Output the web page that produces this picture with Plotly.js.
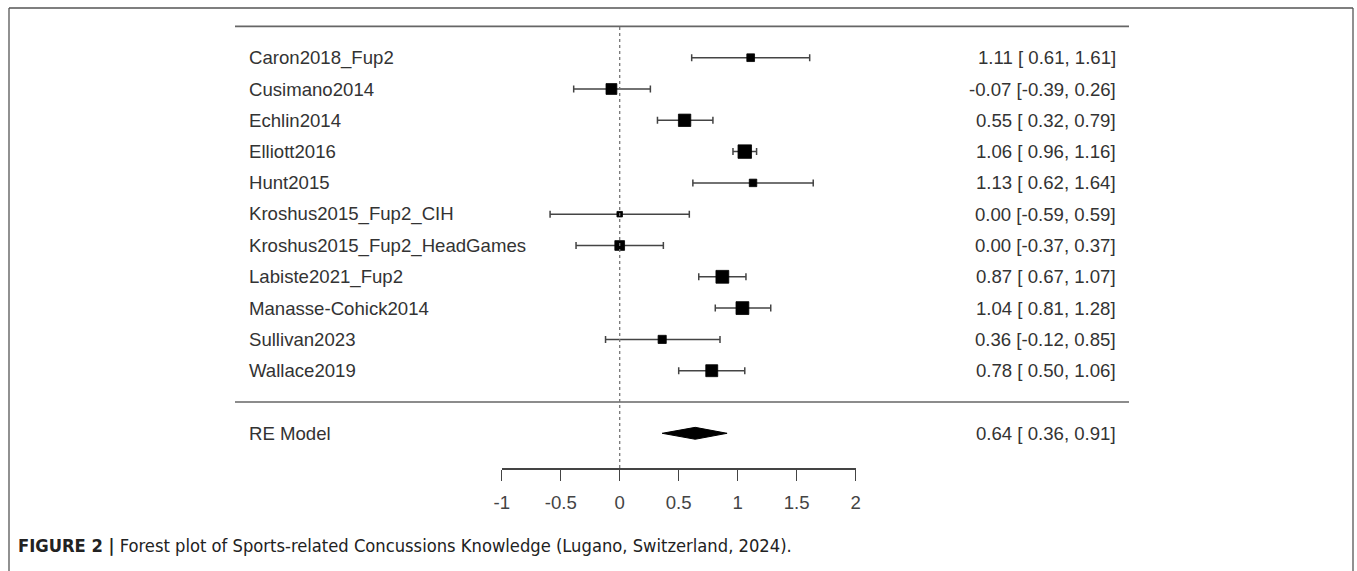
<!DOCTYPE html>
<html>
<head>
<meta charset="utf-8">
<script src="https://cdn.plot.ly/plotly-3.0.1.min.js"></script>
<style>
  html, body { margin: 0; padding: 0; background: #ffffff; }
  #chart { width: 1357px; height: 571px; }
</style>
</head>
<body>
<div id="chart"></div>
<script>
// ---- data ----
const studies = [
  "Caron2018_Fup2", "Cusimano2014", "Echlin2014", "Elliott2016", "Hunt2015",
  "Kroshus2015_Fup2_CIH", "Kroshus2015_Fup2_HeadGames", "Labiste2021_Fup2",
  "Manasse-Cohick2014", "Sullivan2023", "Wallace2019"
];
const estimate = [1.11, -0.07, 0.55, 1.06, 1.13, 0.00, 0.00, 0.87, 1.04, 0.36, 0.78];
const ciLower  = [0.61, -0.39, 0.32, 0.96, 0.62, -0.59, -0.37, 0.67, 0.81, -0.12, 0.50];
const ciUpper  = [1.61, 0.26, 0.79, 1.16, 1.64, 0.59, 0.37, 1.07, 1.28, 0.85, 1.06];
const weightPct = [8.1, 9.5, 10.2, 10.7, 8.0, 7.1, 9.0, 10.4, 10.4, 8.3, 10.0];
const summaryLabel = "RE Model";
const summaryEst = 0.64;
const summaryLower = 0.36;
const summaryUpper = 0.91;
const xTickVals = [-1, -0.5, 0, 0.5, 1, 1.5, 2];
const xTickText = ["-1", "-0.5", "0", "0.5", "1", "1.5", "2"];
const captionBold = "FIGURE 2 |";
const captionText = "Forest plot of Sports-related Concussions Knowledge (Lugano, Switzerland, 2024).";

// ---- layout helpers ----
const W = 1357, H = 571;
const k = studies.length;
const rows = studies.map((_, i) => k - i);        // k ... 1
const summaryRow = -1;
const rowPx = 31.3;
const topRowPx = 57.7;
const yTop = k + topRowPx / rowPx;
const yBot = k - (H - topRowPx) / rowPx;
const px = v => v / W;
const py = v => (H - v) / H;

const fmt = v => v.toFixed(2);
const padNum = s => (s.startsWith('-') ? s : '&nbsp;' + s);
const fmtCI = (e, l, u) => fmt(e) + ' [' + padNum(fmt(l)) + ', ' + fmt(u) + ']';

const wMin = Math.min(...weightPct), wMax = Math.max(...weightPct);
const sizes = weightPct.map(w => 5.5 + (w - wMin) / (wMax - wMin) * 8);

const lineCol = '#444444';
const textCol = '#333333';
const fontFam = 'Liberation Sans, Arial, Helvetica, sans-serif';
const fSize = 18.6;

const studyTrace = {
  type: 'scatter', mode: 'markers',
  x: estimate, y: rows,
  marker: { symbol: 'square', size: sizes, color: '#000000', opacity: 1, line: { width: 0.8, color: '#000000' } },
  error_x: {
    type: 'data', symmetric: false,
    array: estimate.map((e, i) => ciUpper[i] - e),
    arrayminus: estimate.map((e, i) => e - ciLower[i]),
    color: lineCol, thickness: 1.5, width: 3.5
  },
  hoverinfo: 'skip', showlegend: false, cliponaxis: false
};

const dh = 0.19;
const diamondTrace = {
  type: 'scatter', mode: 'lines',
  x: [summaryLower, summaryEst, summaryUpper, summaryEst, summaryLower],
  y: [summaryRow, summaryRow + dh, summaryRow, summaryRow - dh, summaryRow],
  fill: 'toself', fillcolor: '#000000',
  line: { color: '#000000', width: 1 },
  hoverinfo: 'skip', showlegend: false
};

const annotations = [];
studies.forEach((s, i) => {
  annotations.push({
    xref: 'paper', yref: 'y', x: px(247), y: rows[i], text: s,
    xanchor: 'left', yanchor: 'middle', showarrow: false,
    font: { family: fontFam, size: fSize, color: textCol }
  });
  annotations.push({
    xref: 'paper', yref: 'y', x: px(1118), y: rows[i],
    text: fmtCI(estimate[i], ciLower[i], ciUpper[i]),
    xanchor: 'right', yanchor: 'middle', showarrow: false,
    font: { family: fontFam, size: fSize, color: textCol }
  });
});
annotations.push({
  xref: 'paper', yref: 'y', x: px(247), y: summaryRow, text: summaryLabel,
  xanchor: 'left', yanchor: 'middle', showarrow: false,
  font: { family: fontFam, size: fSize, color: textCol }
});
annotations.push({
  xref: 'paper', yref: 'y', x: px(1118), y: summaryRow,
  text: fmtCI(summaryEst, summaryLower, summaryUpper),
  xanchor: 'right', yanchor: 'middle', showarrow: false,
  font: { family: fontFam, size: fSize, color: textCol }
});
annotations.push({
  xref: 'paper', yref: 'paper', x: px(16), y: py(545),
  text: '<b>' + captionBold + '</b> ' + captionText,
  xanchor: 'left', yanchor: 'middle', showarrow: false,
  font: { family: 'Liberation Sans Narrow, DejaVu Sans Condensed, Liberation Sans, sans-serif', size: 18.2, color: '#222222' }
});

const axisY = 468;
const shapes = [
  // frame
  { type: 'line', xref: 'paper', yref: 'paper', x0: px(9), x1: px(1353), y0: py(8), y1: py(8), line: { color: '#555', width: 1.3 } },
  { type: 'line', xref: 'paper', yref: 'paper', x0: px(9), x1: px(9), y0: py(8), y1: 0, line: { color: '#555', width: 1.3 } },
  { type: 'line', xref: 'paper', yref: 'paper', x0: px(1353), x1: px(1353), y0: py(8), y1: 0, line: { color: '#555', width: 1.3 } },
  // top rule (row k+1) and separator (row 0)
  { type: 'line', xref: 'paper', yref: 'y', x0: px(235), x1: px(1129), y0: k + 1, y1: k + 1, line: { color: '#666', width: 1.6 } },
  { type: 'line', xref: 'paper', yref: 'y', x0: px(235), x1: px(1129), y0: 0, y1: 0, line: { color: '#666', width: 1.6 } },
  // reference line at 0
  { type: 'line', xref: 'x', yref: 'paper', x0: 0, x1: 0, y0: py(axisY), y1: py(topRowPx - rowPx), line: { color: '#777', width: 1.3, dash: 'dot' } }
];

const layout = {
  width: W, height: H,
  margin: { l: 0, r: 0, t: 0, b: 0 },
  paper_bgcolor: '#ffffff', plot_bgcolor: 'rgba(0,0,0,0)',
  showlegend: false,
  xaxis: {
    domain: [px(501.7), px(855.7)],
    range: [-1, 2],
    anchor: 'free', position: py(axisY),
    showgrid: false, zeroline: false,
    showline: true, linecolor: lineCol, linewidth: 1.5,
    ticks: 'outside', ticklen: 11, tickwidth: 1.5, tickcolor: lineCol,
    tickvals: xTickVals, ticktext: xTickText,
    ticklabelstandoff: 6,
    tickfont: { family: fontFam, size: fSize, color: '#444' },
    fixedrange: true
  },
  yaxis: {
    domain: [0, 1], range: [yBot, yTop],
    visible: false, showgrid: false, zeroline: false, fixedrange: true
  },
  annotations: annotations,
  shapes: shapes
};

Plotly.newPlot('chart', [studyTrace, diamondTrace], layout, { staticPlot: true, displayModeBar: false });
</script>
</body>
</html>
